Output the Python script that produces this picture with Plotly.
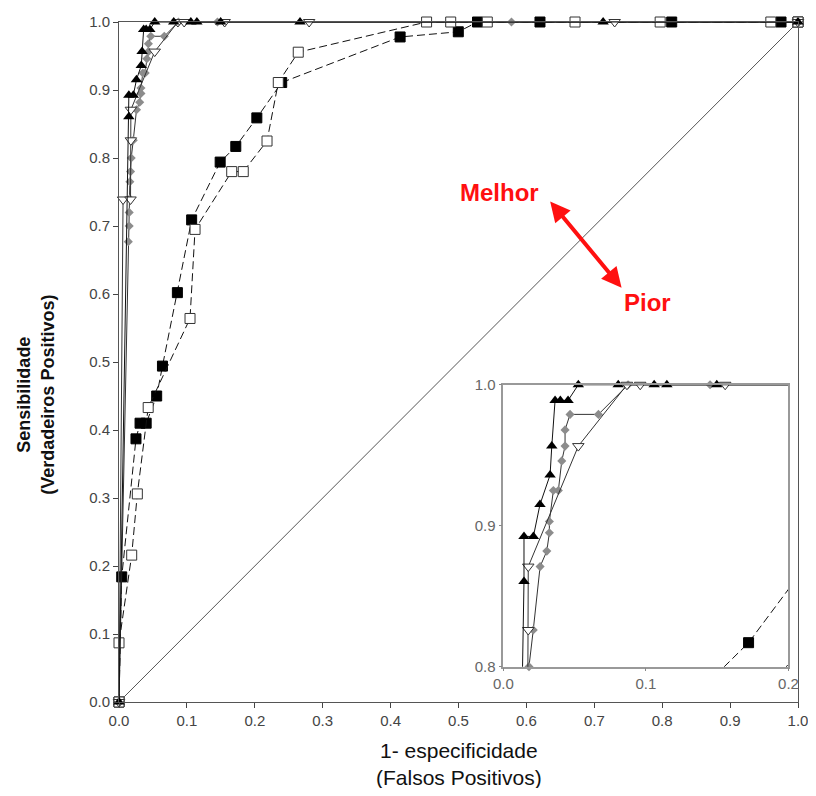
import plotly.graph_objects as go

# ---------------- data ----------------
fs_x = [0, 0.004, 0.025, 0.031, 0.040, 0.0555, 0.064, 0.086, 0.107, 0.149, 0.172,
        0.203, 0.2396, 0.414, 0.4997, 0.528, 0.62, 0.814, 0.975, 1.0]
fs_y = [0, 0.184, 0.387, 0.41, 0.41, 0.450, 0.494, 0.602, 0.709, 0.794, 0.817,
        0.859, 0.911, 0.978, 0.9856, 1.0, 1.0, 1.0, 1.0, 1.0]

os_x = [0, 0, 0.0187, 0.027, 0.043, 0.1046, 0.112, 0.166, 0.183, 0.218, 0.2346,
        0.264, 0.453, 0.4885, 0.5424, 0.6716, 0.797, 0.96, 1.0]
os_y = [0, 0.087, 0.216, 0.306, 0.433, 0.564, 0.695, 0.780, 0.780, 0.825, 0.911,
        0.9556, 1.0, 1.0, 1.0, 1.0, 1.0, 1.0, 1.0]

gd_x = [0, 0.0137, 0.015, 0.015, 0.016, 0.016, 0.017, 0.018, 0.021, 0.0258, 0.0305,
        0.0323, 0.0323, 0.0351, 0.0386, 0.041, 0.0433, 0.0433, 0.0468, 0.0667, 0.0875,
        0.145, 0.578, 1.0]
gd_y = [0, 0.677, 0.70, 0.72, 0.74, 0.765, 0.78, 0.80, 0.826, 0.871, 0.882,
        0.895, 0.903, 0.925, 0.925, 0.946, 0.9565, 0.968, 0.979, 0.979, 1.0,
        1.0, 1.0, 1.0]

vt_x = [0, 0.006, 0.017, 0.0175, 0.0175, 0.0526, 0.0867, 0.096, 0.1556, 0.28, 0.73, 1.0]
vt_y = [0, 0.739, 0.739, 0.826, 0.871, 0.9565, 1.0, 1.0, 1.0, 1.0, 1.0, 1.0]

tr_x = [0, 0.0145, 0.0145, 0.0211, 0.0257, 0.0328, 0.034, 0.0363, 0.040, 0.0454,
        0.0526, 0.0806, 0.1058, 0.1147, 0.1497, 0.2666, 0.713, 1.0]
tr_y = [0, 0.8605, 0.8924, 0.8924, 0.915, 0.936, 0.9565, 0.9889, 0.9889, 0.9889,
        1.0, 1.0, 1.0, 1.0, 1.0, 1.0, 1.0, 1.0]

diag_x = [0, 1]
diag_y = [0, 1]

main_ticks = [0, 0.1, 0.2, 0.3, 0.4, 0.5, 0.6, 0.7, 0.8, 0.9, 1.0]
main_ticktext = ["0.0", "0.1", "0.2", "0.3", "0.4", "0.5", "0.6", "0.7", "0.8", "0.9", "1.0"]
inset_xticks = [0, 0.1, 0.2]
inset_xtext = ["0.0", "0.1", "0.2"]
inset_yticks = [0.8, 0.9, 1.0]
inset_ytext = ["0.8", "0.9", "1.0"]

# ---------------- figure ----------------
fig = go.Figure()

fig.add_trace(go.Scatter(x=diag_x, y=diag_y, mode="lines",
                         line=dict(color="#555555", width=1),
                         xaxis="x", yaxis="y", hoverinfo="skip"))

series = [
    dict(x=fs_x, y=fs_y, line=dict(color="#111111", width=1, dash="8px,4px"),
         marker=dict(symbol="square", size=10, color="#000000",
                     line=dict(color="#000000", width=1))),
    dict(x=os_x, y=os_y, line=dict(color="#111111", width=1, dash="8px,4px"),
         marker=dict(symbol="square", size=10, color="#ffffff",
                     line=dict(color="#333333", width=1))),
    dict(x=gd_x, y=gd_y, line=dict(color="#333333", width=1),
         marker=dict(symbol="diamond", size=7, color="#8c8c8c",
                     line=dict(color="#8c8c8c", width=0))),
    dict(x=vt_x, y=vt_y, line=dict(color="#333333", width=1),
         marker=dict(symbol="triangle-down", size=10, color="#ffffff",
                     line=dict(color="#333333", width=1))),
    dict(x=tr_x, y=tr_y, line=dict(color="#111111", width=1),
         marker=dict(symbol="triangle-up", size=10, color="#000000",
                     line=dict(color="#000000", width=0))),
]

for ax in [("x", "y"), ("x2", "y2")]:
    for s in series:
        fig.add_trace(go.Scatter(x=s["x"], y=s["y"], mode="lines+markers",
                                 line=s["line"], marker=s["marker"],
                                 xaxis=ax[0], yaxis=ax[1], cliponaxis=False,
                                 hoverinfo="skip"))

tickfont = dict(family="Liberation Sans, Arial, sans-serif", size=15, color="#444444")
inset_font = dict(family="Liberation Sans, Arial, sans-serif", size=15, color="#666666")

# page has an 8px body margin, so the figure is sized to fit inside the window
fig.update_layout(
    width=808, height=780, autosize=False,
    margin=dict(l=111, r=18, t=14, b=86, autoexpand=False),
    paper_bgcolor="white", plot_bgcolor="white",
    showlegend=False,
    xaxis=dict(domain=[0, 1], range=[0, 1], tickvals=main_ticks, ticktext=main_ticktext,
               ticks="outside", ticklen=5, tickcolor="#444444", showline=True,
               linecolor="#555555", linewidth=1, mirror=True, showgrid=False,
               zeroline=False, tickfont=tickfont, automargin=False,
               ticklabeloverflow="allow"),
    yaxis=dict(domain=[0, 1], range=[0, 1], tickvals=main_ticks, ticktext=main_ticktext,
               ticks="outside", ticklen=5, tickcolor="#444444", showline=True,
               linecolor="#555555", linewidth=1, mirror=True, showgrid=False,
               zeroline=False, tickfont=tickfont, automargin=False),
    xaxis2=dict(domain=[0.566, 0.986], anchor="y2", range=[0, 0.2],
                tickvals=inset_xticks, ticktext=inset_xtext, ticks="outside", ticklen=3,
                tickcolor="#888888", showline=True, linecolor="#999999", linewidth=1.5,
                mirror=True, showgrid=False, zeroline=False, tickfont=inset_font,
                automargin=False, ticklabeloverflow="allow"),
    yaxis2=dict(domain=[0.052, 0.4665], anchor="x2", range=[0.8, 1.0],
                tickvals=inset_yticks, ticktext=inset_ytext, ticks="outside", ticklen=3,
                tickcolor="#888888", showline=True, linecolor="#999999", linewidth=1.5,
                mirror=True, showgrid=False, zeroline=False, tickfont=inset_font,
                automargin=False),
)

red = "#ff1010"
fig.add_annotation(x=0.635, y=0.736, ax=0.742, ay=0.607, xref="x", yref="y",
                   axref="x", ayref="y", text="", showarrow=True,
                   arrowhead=2, startarrowhead=2, arrowside="end+start",
                   arrowsize=1, startarrowsize=1, arrowwidth=4, arrowcolor=red)
fig.add_annotation(x=0.561, y=0.749, xref="x", yref="y", text="<b>Melhor</b>",
                   showarrow=False, font=dict(family="Liberation Sans, Arial, sans-serif",
                                              size=24, color=red))
fig.add_annotation(x=0.779, y=0.587, xref="x", yref="y", text="<b>Pior</b>",
                   showarrow=False, font=dict(family="Liberation Sans, Arial, sans-serif",
                                              size=24, color=red))

# axis titles
fig.add_annotation(x=-0.1222, y=0.452, xref="paper", yref="paper",
                   xanchor="center", yanchor="middle",
                   text="<b>Sensibilidade<br>(Verdadeiros Positivos)</b>",
                   textangle=-90, showarrow=False,
                   font=dict(family="Liberation Sans, Arial, sans-serif", size=18, color="#111111"))
fig.add_annotation(x=0.5, y=-0.0912, xref="paper", yref="paper",
                   xanchor="center", yanchor="middle",
                   text="1- especificidade<br>(Falsos Positivos)",
                   showarrow=False,
                   font=dict(family="Liberation Sans, Arial, sans-serif",
                             size=21, color="#111111"))

fig.write_html("out.html")
